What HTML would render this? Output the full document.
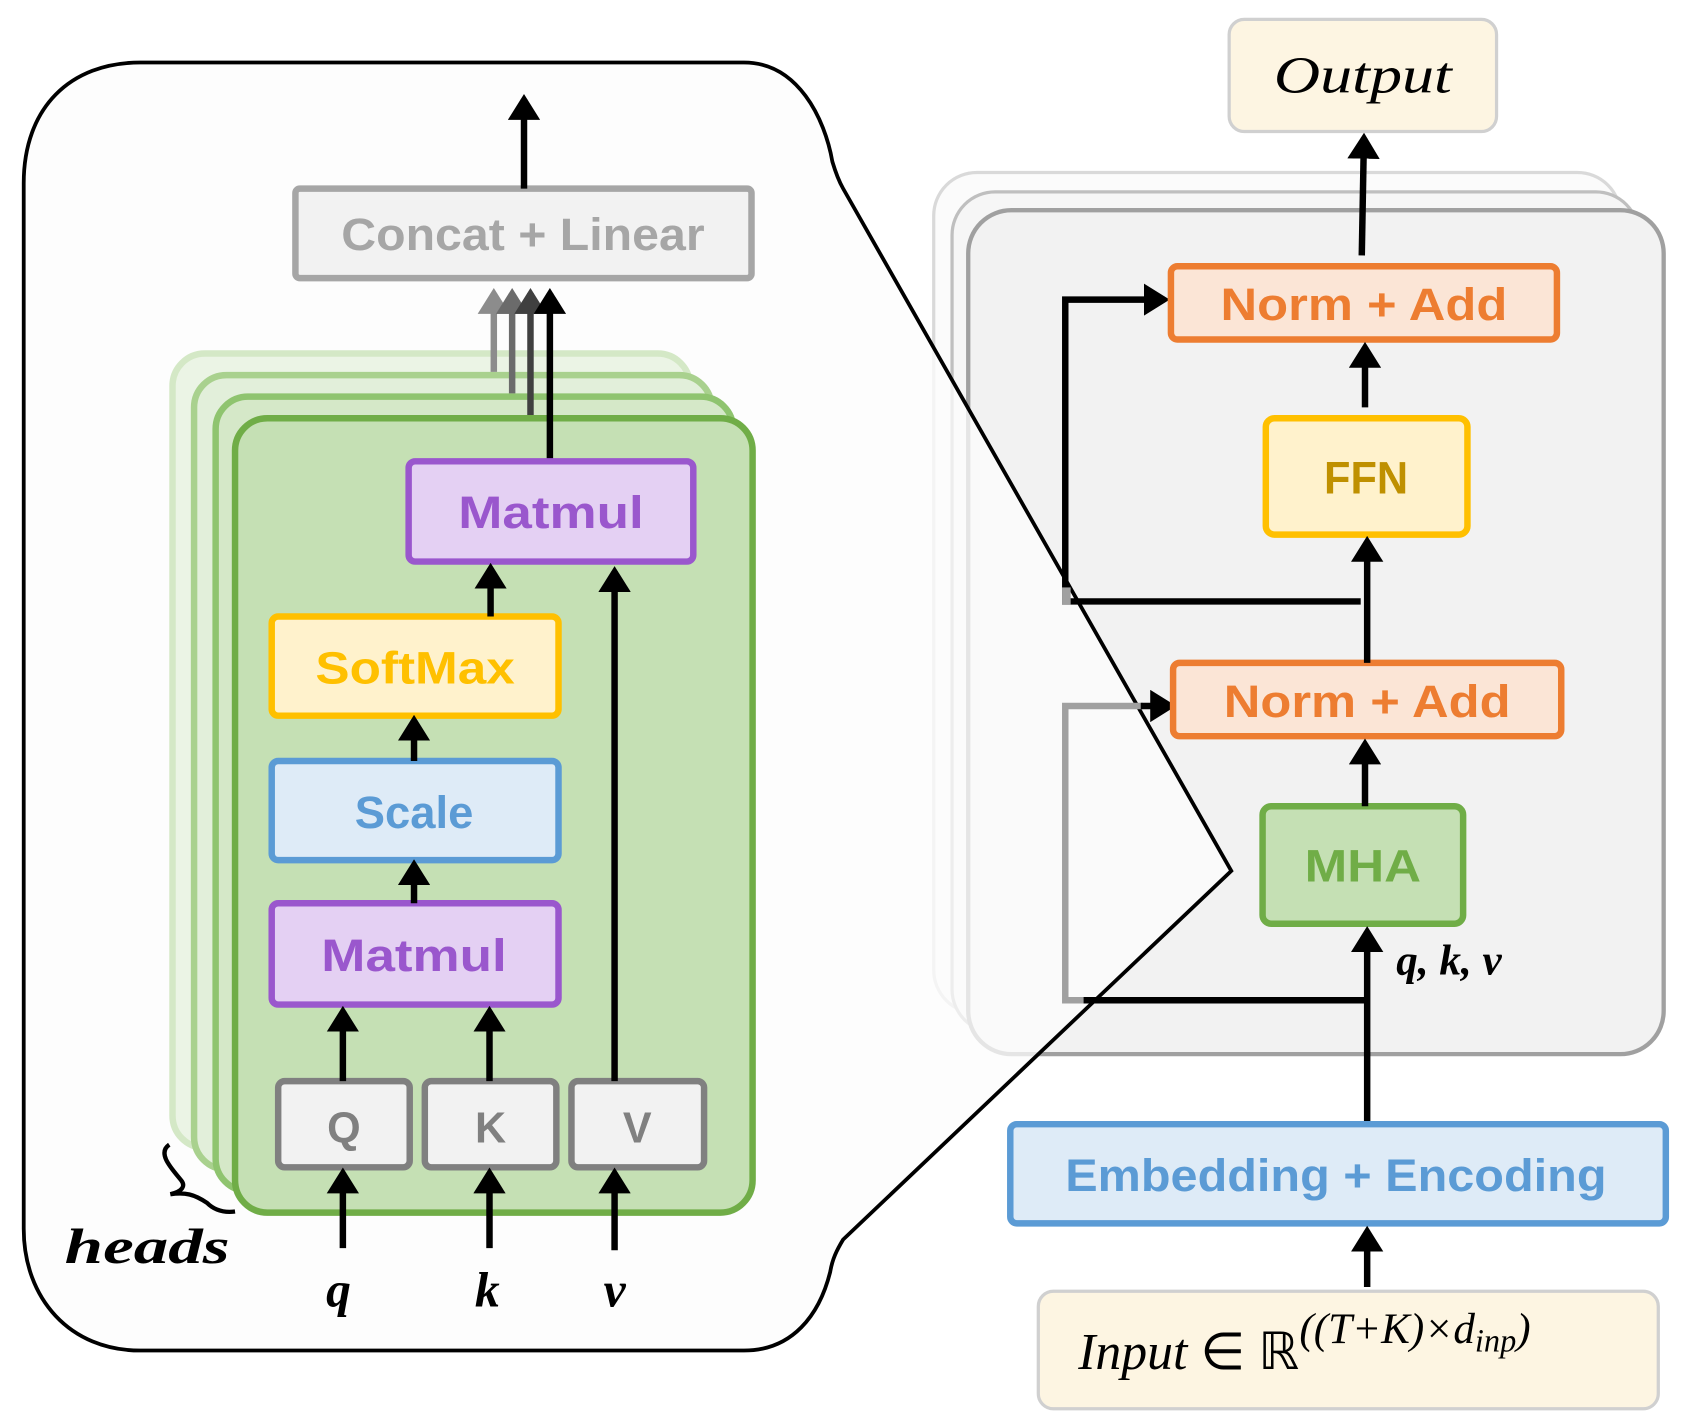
<!DOCTYPE html>
<html><head><meta charset="utf-8"><style>
html,body{margin:0;padding:0;background:#fff;}
svg{display:block;}
.b{font-family:"Liberation Sans",sans-serif;font-weight:bold;}
.m{font-family:"Liberation Serif",serif;font-style:italic;}
</style></head><body>
<svg width="1682" height="1426" viewBox="0 0 1560 1323" preserveAspectRatio="none" xmlns="http://www.w3.org/2000/svg">
<defs>
<marker id="ah" markerWidth="4" markerHeight="5" refX="3.2" refY="2.5" orient="auto" markerUnits="strokeWidth">
<path d="M0,0 L4,2.5 L0,5 z" fill="#000"/></marker>
<marker id="ahg1" markerWidth="4" markerHeight="5" refX="3.2" refY="2.5" orient="auto" markerUnits="strokeWidth"><path d="M0,0 L4,2.5 L0,5 z" fill="#8c8c8c"/></marker>
<marker id="ahg2" markerWidth="4" markerHeight="5" refX="3.2" refY="2.5" orient="auto" markerUnits="strokeWidth"><path d="M0,0 L4,2.5 L0,5 z" fill="#6b6b6b"/></marker>
<marker id="ahg3" markerWidth="4" markerHeight="5" refX="3.2" refY="2.5" orient="auto" markerUnits="strokeWidth"><path d="M0,0 L4,2.5 L0,5 z" fill="#404040"/></marker>
</defs>

<rect x="866" y="160" width="637" height="780" rx="40" fill="#fbfbfb" stroke="#d9d9d9" stroke-width="3"/>
<rect x="883" y="178" width="637" height="780" rx="40" fill="#f6f6f6" stroke="#bfbfbf" stroke-width="3"/>
<rect x="898" y="195" width="645" height="783" rx="40" fill="#f2f2f2" stroke="#a0a0a0" stroke-width="4"/>

<path d="M130,58 L690,58 C740,58 765,110 772,150 C775,160 778,168 782,175 L1142,808 L782,1150 C776,1160 772,1168 770,1180 C760,1220 735,1253 690,1253 L130,1253 C65,1253 22,1205 22,1140 L22,170 C22,100 65,58 130,58 Z" fill="#fcfcfc" fill-opacity="0.75" stroke="#000" stroke-width="3.5"/>

<rect x="274" y="175" width="423" height="83" rx="4" fill="#f2f2f2" stroke="#a6a6a6" stroke-width="6"/>
<text x="485" y="232" class="b" font-size="42" fill="#a6a6a6" text-anchor="middle" textLength="337" lengthAdjust="spacingAndGlyphs">Concat + Linear</text>
<line x1="486" y1="175" x2="486" y2="92" stroke="#000" stroke-width="6" marker-end="url(#ah)"/>

<rect x="160" y="328" width="480" height="737" rx="30" fill="#ebf4e5" stroke="#d4e8c6" stroke-width="6"/>
<rect x="180" y="348" width="480" height="737" rx="30" fill="#e2efda" stroke="#a9d18e" stroke-width="6"/>
<rect x="200" y="368" width="480" height="737" rx="30" fill="#d5e8c8" stroke="#8fc46f" stroke-width="6"/>
<rect x="218" y="388" width="480" height="737" rx="30" fill="#c5e0b4" stroke="#70ad47" stroke-width="6"/>

<line x1="458" y1="345" x2="458" y2="272" stroke="#8c8c8c" stroke-width="6" marker-end="url(#ahg1)"/>
<line x1="475" y1="365" x2="475" y2="272" stroke="#6b6b6b" stroke-width="6" marker-end="url(#ahg2)"/>
<line x1="492" y1="385" x2="492" y2="272" stroke="#404040" stroke-width="6" marker-end="url(#ahg3)"/>
<line x1="510" y1="428" x2="510" y2="272" stroke="#000" stroke-width="6" marker-end="url(#ah)"/>

<rect x="379" y="428" width="264" height="93" rx="6" fill="#e4d0f3" stroke="#9a57cd" stroke-width="6"/>
<text x="511" y="490" class="b" font-size="42" fill="#9a57cd" text-anchor="middle" textLength="172" lengthAdjust="spacingAndGlyphs">Matmul</text>
<rect x="252" y="572" width="266" height="92" rx="6" fill="#fff2cc" stroke="#ffc000" stroke-width="6"/>
<text x="385" y="634" class="b" font-size="42" fill="#ffc000" text-anchor="middle" textLength="185" lengthAdjust="spacingAndGlyphs">SoftMax</text>
<rect x="252" y="706" width="266" height="92" rx="6" fill="#deebf7" stroke="#5b9bd5" stroke-width="6"/>
<text x="384" y="768" class="b" font-size="42" fill="#5b9bd5" text-anchor="middle" textLength="110" lengthAdjust="spacingAndGlyphs">Scale</text>
<rect x="252" y="838" width="266" height="94" rx="6" fill="#e4d0f3" stroke="#9a57cd" stroke-width="6"/>
<text x="384" y="901" class="b" font-size="42" fill="#9a57cd" text-anchor="middle" textLength="172" lengthAdjust="spacingAndGlyphs">Matmul</text>

<rect x="258" y="1003" width="122" height="80" rx="6" fill="#f2f2f2" stroke="#808080" stroke-width="6"/>
<rect x="394" y="1003" width="122" height="80" rx="6" fill="#f2f2f2" stroke="#808080" stroke-width="6"/>
<rect x="530" y="1003" width="123" height="80" rx="6" fill="#f2f2f2" stroke="#808080" stroke-width="6"/>
<text x="319" y="1060" class="b" font-size="40" fill="#808080" text-anchor="middle">Q</text>
<text x="455" y="1060" class="b" font-size="40" fill="#808080" text-anchor="middle">K</text>
<text x="591" y="1060" class="b" font-size="40" fill="#808080" text-anchor="middle">V</text>

<line x1="318" y1="1003" x2="318" y2="938" stroke="#000" stroke-width="6" marker-end="url(#ah)"/>
<line x1="454" y1="1003" x2="454" y2="938" stroke="#000" stroke-width="6" marker-end="url(#ah)"/>
<line x1="570" y1="1003" x2="570" y2="530" stroke="#000" stroke-width="6" marker-end="url(#ah)"/>
<line x1="455" y1="572" x2="455" y2="527" stroke="#000" stroke-width="6" marker-end="url(#ah)"/>
<line x1="384" y1="706" x2="384" y2="668" stroke="#000" stroke-width="6" marker-end="url(#ah)"/>
<line x1="384" y1="838" x2="384" y2="802" stroke="#000" stroke-width="6" marker-end="url(#ah)"/>
<line x1="318" y1="1158" x2="318" y2="1088" stroke="#000" stroke-width="6" marker-end="url(#ah)"/>
<line x1="454" y1="1158" x2="454" y2="1088" stroke="#000" stroke-width="6" marker-end="url(#ah)"/>
<line x1="570" y1="1160" x2="570" y2="1088" stroke="#000" stroke-width="6" marker-end="url(#ah)"/>

<text x="314" y="1212" class="m" font-size="46" font-weight="bold" text-anchor="middle">q</text>
<text x="452" y="1212" class="m" font-size="46" font-weight="bold" text-anchor="middle">k</text>
<text x="570" y="1212" class="m" font-size="46" font-weight="bold" text-anchor="middle">v</text>
<text x="60" y="1172" class="m" font-size="46" font-weight="bold" textLength="153" lengthAdjust="spacingAndGlyphs">heads</text>
<path d="M157,1062 C145,1070 160,1085 168,1095 C172,1100 170,1105 158,1108 C172,1106 180,1108 192,1116 C200,1124 210,1125 218,1124" fill="none" stroke="#000" stroke-width="4"/>

<rect x="1140" y="18" width="248" height="104" rx="14" fill="#fdf5e2" stroke="#d0d0d0" stroke-width="3"/>
<text x="1264" y="86" class="m" font-size="48" text-anchor="middle" textLength="165" lengthAdjust="spacingAndGlyphs">Output</text>
<line x1="1263" y1="237" x2="1265" y2="128" stroke="#000" stroke-width="6" marker-end="url(#ah)"/>

<polyline points="1268,928 988,928 988,655 1060,655" fill="none" stroke="#a0a0a0" stroke-width="6"/>
<line x1="1268" y1="928" x2="1005" y2="928" stroke="#000" stroke-width="6"/>
<line x1="1058" y1="655" x2="1086" y2="655" stroke="#000" stroke-width="6" marker-end="url(#ah)"/>
<polyline points="1262,558 988,558 988,278 1080,278" fill="none" stroke="#000" stroke-width="6" marker-end="url(#ah)"/>
<rect x="985" y="545" width="8" height="16" fill="#a0a0a0"/>

<rect x="1086" y="247" width="358" height="68" rx="6" fill="#fbe5d6" stroke="#ed7d31" stroke-width="6"/>
<text x="1265" y="297" class="b" font-size="42" fill="#ed7d31" text-anchor="middle" textLength="266" lengthAdjust="spacingAndGlyphs">Norm + Add</text>
<rect x="1174" y="388" width="187" height="108" rx="8" fill="#fff2cc" stroke="#ffc000" stroke-width="6"/>
<text x="1267" y="458" class="b" font-size="42" fill="#bf9000" text-anchor="middle" textLength="78" lengthAdjust="spacingAndGlyphs">FFN</text>
<rect x="1088" y="615" width="360" height="68" rx="6" fill="#fbe5d6" stroke="#ed7d31" stroke-width="6"/>
<text x="1268" y="665" class="b" font-size="42" fill="#ed7d31" text-anchor="middle" textLength="266" lengthAdjust="spacingAndGlyphs">Norm + Add</text>
<rect x="1171" y="748" width="186" height="109" rx="8" fill="#c5e0b4" stroke="#70ad47" stroke-width="6"/>
<text x="1264" y="818" class="b" font-size="42" fill="#70ad47" text-anchor="middle" textLength="108" lengthAdjust="spacingAndGlyphs">MHA</text>

<line x1="1266" y1="378" x2="1266" y2="322" stroke="#000" stroke-width="6" marker-end="url(#ah)"/>
<line x1="1268" y1="615" x2="1268" y2="502" stroke="#000" stroke-width="6" marker-end="url(#ah)"/>
<line x1="1266" y1="748" x2="1266" y2="690" stroke="#000" stroke-width="6" marker-end="url(#ah)"/>
<line x1="1268" y1="1040" x2="1268" y2="864" stroke="#000" stroke-width="6" marker-end="url(#ah)"/>
<text x="1295" y="904" class="m" font-size="40" font-weight="bold">q, k, v</text>

<rect x="937" y="1043" width="608" height="92" rx="6" fill="#deebf7" stroke="#5b9bd5" stroke-width="6"/>
<text x="1239" y="1105" class="b" font-size="42" fill="#5b9bd5" text-anchor="middle" textLength="502" lengthAdjust="spacingAndGlyphs">Embedding + Encoding</text>
<line x1="1268" y1="1194" x2="1268" y2="1142" stroke="#000" stroke-width="6" marker-end="url(#ah)"/>

<rect x="963" y="1198" width="575" height="109" rx="14" fill="#fdf5e2" stroke="#d0d0d0" stroke-width="3"/>
<text x="1000" y="1270" class="m" font-size="48">Input <tspan font-style="normal">∈ ℝ</tspan><tspan font-size="40" dy="-24">((T+K)×d</tspan><tspan font-size="30" dy="8">inp</tspan><tspan font-size="40" dy="-8">)</tspan></text>
</svg>
</body></html>
